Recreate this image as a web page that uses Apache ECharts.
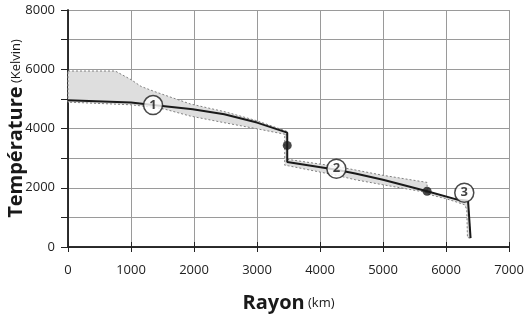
<!DOCTYPE html>
<html>
<head>
<meta charset="utf-8">
<script src="https://cdn.jsdelivr.net/npm/echarts@6/dist/echarts.min.js"></script>
<style>
  html, body { margin: 0; padding: 0; background: #fff; }
  #chart { width: 530px; height: 336px; }
</style>
</head>
<body>
<div id="chart"></div>
<script>
// rayon (km), température (K)
const profile = [
  [0, 4950], [1000, 4880], [1350, 4790], [1980, 4650], [2480, 4480],
  [3000, 4200], [3480, 3860], [3480, 2870], [4260, 2610], [4560, 2480],
  [5000, 2270], [5700, 1880], [6180, 1600], [6350, 1560], [6390, 300]
]

// bandes grisées (contour : bord haut puis bord bas à rebours)
const bandCore = [
  [0, 5940], [750, 5940], [1000, 5650], [1160, 5420], [1370, 5250],
  [1600, 5080], [1940, 4830], [2500, 4560], [3000, 4260], [3480, 3900],
  [3480, 3790], [3000, 3990], [2470, 4200], [1940, 4420], [1540, 4650],
  [1350, 4720], [1000, 4800], [0, 4890]
]
const bandMantle = [
  [3480, 2960], [4260, 2720], [4560, 2600], [5000, 2420], [5700, 2180],
  [5700, 1840], [5000, 2100], [4560, 2270], [4260, 2420], [3500, 2740],
  [3440, 2760], [3440, 3790], [3480, 3790]
]
const bandCrust = [
  [5700, 1880], [6180, 1600], [6350, 1560], [6390, 300],
  [6340, 320], [6330, 1250], [6300, 1420], [6180, 1510], [6000, 1630], [5700, 1790]
]

const discontinuities = [[3480, 3430], [5700, 1880]]
const markers = [[1350, 4790, '1'], [4260, 2640, '2'], [6290, 1830, '3']]

const xTicks = { min: 0, max: 7000, interval: 1000 }
const yTicks = { min: 0, max: 8000, interval: 1000 }

const tickFont = { fontFamily: 'Open Sans', fontSize: 13, color: '#222' }

const bandSeries = (pts) => ({
  type: 'custom',
  coordinateSystem: 'cartesian2d',
  data: pts,
  z: 2,
  silent: true,
  renderItem: (params, api) => {
    if (params.dataIndex !== 0) return null
    return {
      type: 'polygon',
      shape: { points: pts.map(p => api.coord(p)) },
      style: { fill: '#dedede', stroke: '#808080', lineWidth: 1, lineDash: [2, 2] }
    }
  }
})

const chart = echarts.init(document.getElementById('chart'))
chart.setOption({
  animation: false,
  grid: { left: 68, right: 21, top: 10, bottom: 89, containLabel: false, outerBoundsMode: 'none' },
  xAxis: [{
    type: 'value', ...xTicks,
    name: '{b|Rayon} {s|(km)}',
    nameLocation: 'middle', nameGap: 46, nameMoveOverlap: false,
    nameTextStyle: {
      rich: {
        b: { fontFamily: 'Open Sans', fontWeight: 'bold', fontSize: 20, color: '#1a1a1a' },
        s: { fontFamily: 'Open Sans', fontSize: 13, color: '#1a1a1a' }
      }
    },
    axisLine: { lineStyle: { color: '#222', width: 1.5 } },
    axisTick: { inside: false, length: 5, lineStyle: { color: '#222' } },
    axisLabel: { ...tickFont, margin: 17, formatter: v => String(v) },
    splitLine: { lineStyle: { color: '#9a9a9a', width: 1 } }
  }, {
    type: 'value', ...xTicks, position: 'top',
    axisLine: { show: true, lineStyle: { color: '#222', width: 1.5 } },
    axisTick: { show: true, inside: false, length: 5, lineStyle: { color: '#222' } },
    axisLabel: { show: false },
    splitLine: { show: false }
  }],
  yAxis: [{
    type: 'value', ...yTicks,
    name: '{b|Température} {s|(Kelvin)}',
    nameLocation: 'middle', nameRotate: 90, nameGap: 42, nameMoveOverlap: false,
    nameTextStyle: {
      rich: {
        b: { fontFamily: 'Open Sans', fontWeight: 'bold', fontSize: 20, color: '#1a1a1a' },
        s: { fontFamily: 'Open Sans', fontSize: 13, color: '#1a1a1a' }
      }
    },
    axisLine: { show: true, lineStyle: { color: '#222', width: 1.5 } },
    axisTick: { show: true, inside: false, length: 7, lineStyle: { color: '#222' } },
    axisLabel: { ...tickFont, margin: 13, formatter: v => (v % 2000 === 0 ? String(v) : '') },
    splitLine: { lineStyle: { color: '#9a9a9a', width: 1 } }
  }, {
    type: 'value', ...yTicks, position: 'right',
    axisLine: { show: true, lineStyle: { color: '#222', width: 1.5 } },
    axisTick: { show: false },
    axisLabel: { show: false },
    splitLine: { show: false }
  }],
  series: [
    bandSeries(bandCore),
    bandSeries(bandMantle),
    bandSeries(bandCrust),
    {
      type: 'line',
      data: profile,
      showSymbol: false,
      z: 4,
      lineStyle: { color: '#1a1a1a', width: 2 }
    },
    {
      type: 'scatter',
      data: discontinuities,
      symbolSize: 9,
      z: 5,
      itemStyle: { color: '#1a1a1a' }
    },
    {
      type: 'scatter',
      data: markers,
      symbolSize: 19,
      z: 6,
      itemStyle: { color: '#fff', borderColor: '#1a1a1a', borderWidth: 1.5 },
      label: {
        show: true, position: 'inside',
        formatter: p => p.value[2],
        fontFamily: 'Open Sans', fontWeight: 'bold', fontSize: 13, color: '#111'
      }
    }
  ]
})
</script>
</body>
</html>
